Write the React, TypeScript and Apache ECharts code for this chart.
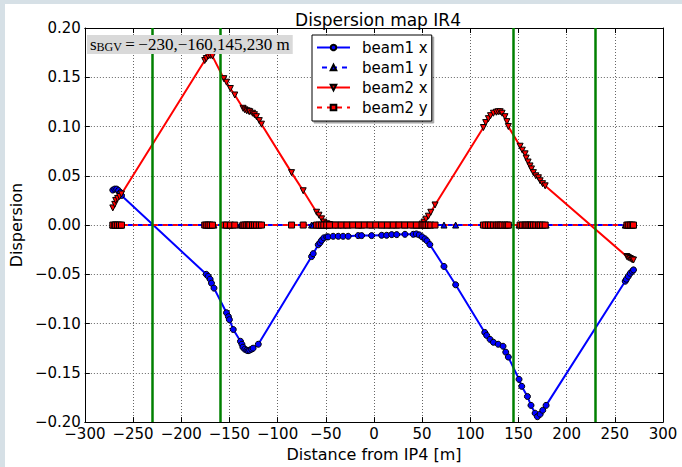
import React, { useEffect, useRef } from "react";
import * as echarts from "echarts";

const chartTitle = "Dispersion map IR4";
const xAxisName = "Distance from IP4 [m]";
const yAxisName = "Dispersion";
const seriesNames = ["beam1 x", "beam1 y", "beam2 x", "beam2 y"];
const bgvPositions = [-230, -160, 145, 230];
const bgvLabel = "\u2009=\u2009\u2212230,\u2212160,145,230 m";

const xMin = -300;
const xMax = 300;
const xStep = 50;
const yMin = -0.2;
const yMax = 0.2;
const yStep = 0.05;

// beam 1
const beam1S = [
  -271, -269, -267, -265, -263, -262,
  -174, -172, -170, -168.6, -166, -153, -151, -150, -146, -138.5, -137, -136, -134, -132, -130.6, -129, -127, -125.4, -120,
  -64.7, -63, -57.8, -56, -54.3, -52, -49,
  -47.5, -42.3, -37, -32, -26.7, -16.3, -12.8, -2.4, 8, 13.2, 18.4, 23.6, 32.2, 40.8,
  44, 47, 50, 53, 55, 58,
  72.7, 84.8,
  115, 117, 120.5, 124, 129, 134, 136.8, 139.5,
  150.6, 153.4, 159.3, 163, 167.3, 169.7, 172.5, 175.2, 178.7,
  260.8, 262, 264, 266, 268, 269.4,
];
const beam1Dx = [
  0.0355, 0.0365, 0.0365, 0.035, 0.033, 0.03,
  -0.05, -0.052, -0.055, -0.059, -0.064, -0.089, -0.093, -0.096, -0.106, -0.118, -0.121, -0.124, -0.126, -0.127, -0.1275, -0.127, -0.126, -0.125, -0.121,
  -0.032, -0.029, -0.02, -0.018, -0.0155, -0.013, -0.012,
  -0.012, -0.0114, -0.0114, -0.0114, -0.0114, -0.0107, -0.0107, -0.0107, -0.0104, -0.0104, -0.0097, -0.0097, -0.0094, -0.0094,
  -0.009, -0.01, -0.012, -0.014, -0.016, -0.0198,
  -0.042, -0.0606,
  -0.109, -0.112, -0.116, -0.119, -0.121, -0.123, -0.129, -0.134,
  -0.1566, -0.1637, -0.174, -0.183, -0.191, -0.1945, -0.192, -0.188, -0.183,
  -0.057, -0.055, -0.052, -0.049, -0.047, -0.0455,
];
const beam1Dy = [
  0, 0, 0, 0, 0, 0,
  0, 0, 0, 0, 0, 0, 0, 0, 0, 0, 0, 0, 0, 0, 0, 0, 0, 0, 0,
  0, 0, 0, 0, 0, 0, 0,
  0, 0, 0, 0, 0, 0, 0, 0, 0, 0, 0, 0, 0, 0,
  0, 0, 0, 0, 0, 0,
  0, 0,
  0, 0, 0, 0, 0, 0, 0, 0,
  0, 0, 0, 0, 0, 0, 0, 0, 0,
  0, 0, 0, 0, 0, 0,
];

// beam 2
const beam2S = [
  -271, -269, -268, -266, -264, -262,
  -175.6, -174, -172, -170, -167.6, -155.8, -153, -149, -144.4, -135.8, -134, -132, -130, -128.8, -126, -124, -121.9, -119, -116.7,
  -85.5, -73.4, -59.5, -57, -54.3, -52, -49, -46,
  -40, -34, -28, -22, -16, -10, -4, 2, 8, 14, 20, 26, 32, 38, 44,
  50, 52, 54, 56.5, 59, 63.4,
  113.6, 116, 118.8, 121, 124, 127, 129, 131, 133, 136, 138, 139.5,
  151.7, 154, 156.9, 158, 160, 162, 163.5, 165.5, 168, 170.7, 172.5, 175, 177.7,
  262.5, 264, 266, 268, 269.4,
];
const beam2Dx = [
  0.0174, 0.021, 0.025, 0.027, 0.029, 0.0315,
  0.167, 0.169, 0.1715, 0.172, 0.1715, 0.1486, 0.145, 0.1386, 0.132, 0.1185, 0.117, 0.116, 0.1155, 0.115, 0.1135, 0.112, 0.11, 0.106, 0.1024,
  0.0532, 0.0348, 0.013, 0.01, 0.0063, 0.003, 0.0013, 0.0005,
  0, 0, 0, 0, 0, 0, 0, 0, 0, 0, 0, 0, 0, 0, 0,
  0.001, 0.003, 0.006, 0.009, 0.013, 0.0204,
  0.099, 0.104, 0.108, 0.111, 0.1135, 0.1145, 0.115, 0.115, 0.1135, 0.11, 0.105, 0.1,
  0.08, 0.076, 0.0723, 0.068, 0.064, 0.06, 0.057, 0.0532, 0.05, 0.048, 0.0449, 0.042, 0.0398,
  -0.032, -0.033, -0.034, -0.0352, -0.0355,
];
const beam2Dy = [
  0, 0, 0, 0, 0, 0,
  0, 0, 0, 0, 0, 0, 0, 0, 0, 0, 0, 0, 0, 0, 0, 0, 0, 0, 0,
  0, 0, 0, 0, 0, 0, 0, 0,
  0, 0, 0, 0, 0, 0, 0, 0, 0, 0, 0, 0, 0, 0, 0,
  0, 0, 0, 0, 0, 0,
  0, 0, 0, 0, 0, 0, 0, 0, 0, 0, 0, 0,
  0, 0, 0, 0, 0, 0, 0, 0, 0, 0, 0, 0, 0,
  0, 0, 0, 0, 0,
];

const uminus = (s: string) => s.replace(/-/g, "\u2212");

export default function App() {
  const ref = useRef<HTMLDivElement>(null);

  useEffect(() => {
    if (!ref.current) return;
    const chart = echarts.init(ref.current, null, { renderer: "svg" });
    const pairs = (s: number[], d: number[]) => s.map((v, i) => [v, d[i]]);

    const axisLine = { show: true, onZero: false, lineStyle: { color: "#000", width: 1 } };
    const axisTick = { show: true, inside: true, length: 5, lineStyle: { color: "#000", width: 1 } };
    const splitLine = { show: true, lineStyle: { color: "#666", width: 1, type: [1, 2] } };
    const font = "DejaVu Sans";
    const serif = "Liberation Serif";

    chart.setOption({
      animation: false,
      backgroundColor: "#ffffff",
      textStyle: { fontFamily: font, color: "#000" },
      title: {
        text: chartTitle,
        left: 373,
        textAlign: "center",
        top: 6,
        textStyle: { fontFamily: font, fontSize: 17, fontWeight: "normal", color: "#000" },
      },
      grid: { left: 83, top: 28, width: 580, height: 400, containLabel: false },
      legend: {
        data: seriesNames,
        orient: "vertical",
        left: 312,
        top: 35,
        padding: [5, 4, 6, 4],
        itemGap: 5,
        itemWidth: 33,
        itemHeight: 7,
        borderColor: "#000",
        borderWidth: 1,
        backgroundColor: "#fff",
        shadowColor: "rgba(0,0,0,0.35)",
        shadowOffsetX: 2,
        shadowOffsetY: 2,
        shadowBlur: 0,
        selectedMode: false,
        textStyle: { fontFamily: font, fontSize: 15, color: "#000", padding: [0, 0, 0, 7] },
      },
      xAxis: [
        {
          type: "value",
          min: xMin,
          max: xMax,
          interval: xStep,
          position: "bottom",
          axisLine,
          axisTick,
          splitLine,
          axisLabel: {
            fontFamily: font,
            fontSize: 15,
            color: "#000",
            margin: 4,
            formatter: (v: number) => uminus(String(Math.round(v))),
          },
          name: xAxisName,
          nameLocation: "middle",
          nameGap: 19,
          nameTextStyle: { fontFamily: font, fontSize: 16, color: "#000" },
        },
        {
          type: "value",
          min: xMin,
          max: xMax,
          interval: xStep,
          position: "top",
          axisLine,
          axisTick,
          splitLine: { show: false },
          axisLabel: { show: false },
        },
      ],
      yAxis: [
        {
          type: "value",
          min: yMin,
          max: yMax,
          interval: yStep,
          position: "left",
          axisLine,
          axisTick,
          splitLine,
          axisLabel: {
            fontFamily: font,
            fontSize: 15,
            color: "#000",
            margin: 4,
            formatter: (v: number) => (Math.abs(v) < 1e-9 ? "0.00" : uminus(v.toFixed(2))),
          },
          name: yAxisName,
          nameLocation: "middle",
          nameGap: 57,
          nameTextStyle: { fontFamily: font, fontSize: 16, color: "#000" },
        },
        {
          type: "value",
          min: yMin,
          max: yMax,
          interval: yStep,
          position: "right",
          axisLine,
          axisTick,
          splitLine: { show: false },
          axisLabel: { show: false },
        },
      ],
      graphic: [
        { type: "rect", shape: { x: 0, y: 0, width: 5, height: 467 }, style: { fill: "#d6e0e6" }, silent: true },
        { type: "rect", shape: { x: 0, y: 0, width: 682, height: 4 }, style: { fill: "#d6e0e6" }, silent: true },
        {
          type: "text",
          x: 87,
          y: 35,
          z: 100,
          silent: true,
          style: {
            text: "{s|s}{sub|BGV}{m|" + bgvLabel + "}",
            backgroundColor: "#d9d9d9",
            padding: [1, 3, 1, 3],
            verticalAlign: "top",
            rich: {
              s: { fontFamily: serif, fontSize: 17, lineHeight: 17, fill: "#000" },
              sub: { fontFamily: serif, fontSize: 12, lineHeight: 17, verticalAlign: "bottom", fill: "#000", padding: [6, 0, 0, 0] },
              m: { fontFamily: serif, fontSize: 17, lineHeight: 17, fill: "#000" },
            },
          },
        },
      ],
      series: [
        {
          name: "bgv",
          type: "line",
          data: [],
          silent: true,
          markLine: {
            silent: true,
            symbol: ["none", "none"],
            label: { show: false },
            lineStyle: { color: "#008000", width: 2.5, type: "solid" },
            emphasis: { disabled: true },
            data: bgvPositions.map((x) => ({ xAxis: x })),
          },
        },
        {
          name: seriesNames[0],
          type: "line",
          data: pairs(beam1S, beam1Dx),
          symbol: "circle",
          symbolSize: 6,
          lineStyle: { color: "#0000ff", width: 2 },
          itemStyle: { color: "#0000ff", borderColor: "#000", borderWidth: 1 },
          emphasis: { disabled: true },
        },
        {
          name: seriesNames[1],
          type: "line",
          data: pairs(beam1S, beam1Dy),
          symbol: "triangle",
          symbolSize: 6,
          lineStyle: { color: "#0000ff", width: 2, type: [5, 5], dashOffset: 5 },
          itemStyle: { color: "#0000ff", borderColor: "#000", borderWidth: 1 },
          emphasis: { disabled: true },
        },
        {
          name: seriesNames[2],
          type: "line",
          data: pairs(beam2S, beam2Dx),
          symbol: "triangle",
          symbolRotate: 180,
          symbolSize: 6,
          lineStyle: { color: "#ff0000", width: 2 },
          itemStyle: { color: "#ff0000", borderColor: "#000", borderWidth: 1 },
          emphasis: { disabled: true },
        },
        {
          name: seriesNames[3],
          type: "line",
          data: pairs(beam2S, beam2Dy),
          symbol: "rect",
          symbolSize: 6,
          lineStyle: { color: "#ff0000", width: 2, type: [5, 5] },
          itemStyle: { color: "#ff0000", borderColor: "#000", borderWidth: 1 },
          emphasis: { disabled: true },
        },
      ],
    });

    return () => chart.dispose();
  }, []);

  return (
    <div style={{ position: "fixed", left: 0, top: 0, width: 682, height: 467, background: "#fff" }}>
      <div ref={ref} style={{ width: 682, height: 467 }} />
    </div>
  );
}
